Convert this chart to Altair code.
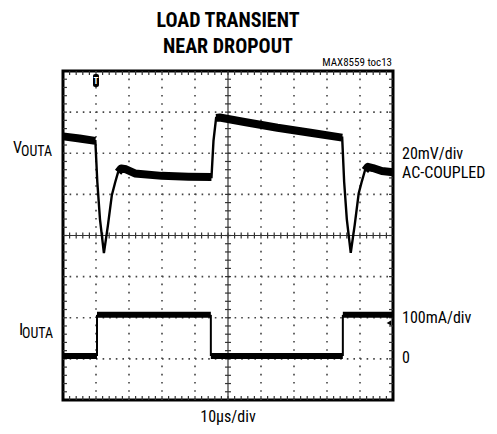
import altair as alt
import numpy as np
import pandas as pd

# ---------------- data (scope divisions: x 0..10, y 0..8) ----------------
# V_OUTA trace (20mV/div, AC-coupled)
v_x = [0.00, 0.50, 0.98, 1.04, 1.12, 1.24, 1.36, 1.48, 1.58, 1.67, 1.76, 1.91, 2.18,
       3.00, 3.80, 4.50, 4.56, 4.64, 4.75, 5.50, 6.50, 7.50, 8.46,
       8.52, 8.60, 8.72, 8.84, 8.96, 9.06, 9.15, 9.24, 9.39, 9.66, 10.00]
v_y = [6.41, 6.36, 6.30, 5.30, 4.40, 3.57, 4.24, 4.98, 5.29, 5.54, 5.63, 5.61, 5.51,
       5.45, 5.43, 5.42, 6.30, 6.86, 6.87, 6.76, 6.62, 6.50, 6.38,
       5.30, 4.40, 3.58, 4.26, 5.02, 5.33, 5.58, 5.67, 5.64, 5.57, 5.54]

# I_OUTA trace (100mA/div): step times and levels
i_edges = [0.00, 1.03, 4.48, 8.48, 10.00]
i_levels = [1.07, 2.07, 1.07, 2.07]

grid_x = [1, 2, 3, 4, 6, 7, 8, 9]
grid_y = [1, 2, 3, 5, 6, 7]

TITLE = ["LOAD TRANSIENT", "NEAR DROPOUT"]
TOC = "MAX8559 toc13"
X_LABEL = "10\u03bcs/div"
V_SCALE = ["20mV/div", "AC-COUPLED"]
I_SCALE = ["100mA/div", "0"]

FONT = "Liberation Sans Narrow, Roboto Condensed, DejaVu Sans Condensed, sans-serif"

W, H = 330, 329
xs = alt.Scale(domain=[0, 10], nice=False, zero=False)
ys = alt.Scale(domain=[0, 8], nice=False, zero=False)


def X(f):
    return alt.X(f, type="quantitative", scale=xs, axis=None)


def Y(f):
    return alt.Y(f, type="quantitative", scale=ys, axis=None)


# ---------------- graticule ----------------
vg = pd.DataFrame({"x": grid_x, "y": 0.0, "y2": 8.0})
hg = pd.DataFrame({"y": grid_y, "x": 0.0, "x2": 10.0})
vgrid = alt.Chart(vg).mark_rule(color="#444", strokeWidth=1.6, strokeDash=[1.6, 6.6]).encode(
    x=X("x"), y=Y("y"), y2="y2")
hgrid = alt.Chart(hg).mark_rule(color="#444", strokeWidth=1.6, strokeDash=[1.6, 5.0]).encode(
    y=Y("y"), x=X("x"), x2="x2")

center = pd.DataFrame({"x": [5.0, 0.0], "x2": [5.0, 10.0], "y": [0.0, 4.0], "y2": [8.0, 4.0]})
center_lines = alt.Chart(center).mark_rule(color="#333", strokeWidth=1.2).encode(
    x=X("x"), x2="x2", y=Y("y"), y2="y2")

tx = np.round(np.arange(0.2, 10.0, 0.2), 2)
ty = np.round(np.arange(0.2, 8.0, 0.2), 2)
ticks = pd.concat([
    pd.DataFrame({"x": tx, "x2": tx, "y": 4 - 0.07, "y2": 4 + 0.07}),
    pd.DataFrame({"x": 5 - 0.09, "x2": 5 + 0.09, "y": ty, "y2": ty}),
    pd.DataFrame({"x": tx, "x2": tx, "y": 0.0, "y2": 0.1}),
    pd.DataFrame({"x": tx, "x2": tx, "y": 7.9, "y2": 8.0}),
    pd.DataFrame({"x": 0.0, "x2": 0.12, "y": ty, "y2": ty}),
    pd.DataFrame({"x": 9.88, "x2": 10.0, "y": ty, "y2": ty}),
])
tick_marks = alt.Chart(ticks).mark_rule(color="#333", strokeWidth=1.2).encode(
    x=X("x"), x2="x2", y=Y("y"), y2="y2")

# ---------------- traces ----------------
vdf = pd.DataFrame({"x": v_x, "y": v_y, "i": range(len(v_x))})
v_thin = alt.Chart(vdf).mark_line(color="black", strokeWidth=2.4).encode(
    x=X("x"), y=Y("y"), order="i:Q")

# thick (noisy) band on the slowly-varying parts: contiguous runs of gentle segments
vx = np.array(v_x)
vy = np.array(v_y)
dxp = np.diff(vx) * W / 10
dyp = np.diff(vy) * H / 8
slow = np.abs(dyp) < 1.4 * np.abs(dxp)
rows = []
run = 0
prev = False
for k, s in enumerate(slow):
    if s:
        if not prev:
            run += 1
            rows.append({"x": vx[k], "y": vy[k], "run": run, "i": k})
        rows.append({"x": vx[k + 1], "y": vy[k + 1], "run": run, "i": k + 1})
    prev = s
runs = pd.DataFrame(rows)
v_thick = alt.Chart(runs).mark_line(color="black", strokeWidth=8, strokeCap="butt",
                                    strokeJoin="round").encode(
    x=X("x"), y=Y("y"), detail="run:N", order="i:Q")

ih = pd.DataFrame({"x": i_edges[:-1], "x2": i_edges[1:], "y": i_levels})
iv = pd.DataFrame({"x": i_edges[1:-1], "y": i_levels[:-1], "y2": i_levels[1:]})
i_flat = alt.Chart(ih).mark_rule(color="black", strokeWidth=6).encode(
    x=X("x"), x2="x2", y=Y("y"))
i_edge = alt.Chart(iv).mark_rule(color="black", strokeWidth=2).encode(
    x=X("x"), y=Y("y"), y2="y2")

# ---------------- markers & labels ----------------
one = pd.DataFrame({"k": [0]})
trig_box = alt.Chart(one).mark_rect(color="black", cornerRadius=2).encode(
    x=alt.value(30), x2=alt.value(36), y=alt.value(3), y2=alt.value(16))
trig_t = alt.Chart(one).mark_text(text="T", color="white", fontSize=9, fontWeight="bold",
                                  font=FONT, align="center", baseline="alphabetic").encode(
    x=alt.value(33), y=alt.value(13))
gnd = alt.Chart(one).mark_point(shape="triangle-left", filled=True, color="black", size=30,
                                opacity=1).encode(x=alt.value(326), y=alt.value(252))


def label(txt, x, y, size, align="left", weight="normal"):
    return alt.Chart(one).mark_text(text=txt, align=align, baseline="alphabetic",
                                    fontSize=size, fontWeight=weight, font=FONT,
                                    color="black").encode(x=alt.value(x), y=alt.value(y))


labels = [
    label(TITLE[0], 165, -44, 20, "center", "bold"),
    label(TITLE[1], 165, -18, 20, "center", "bold"),
    label(TOC, 329, -5, 11, "right"),
    label("V", -50, 82, 16),
    label("OUTA", -42, 85, 14),
    label("I", -44, 264, 17),
    label("OUTA", -41, 267, 14),
    label(V_SCALE[0], 339, 88, 16),
    label(V_SCALE[1], 339, 107, 16),
    label(I_SCALE[0], 339, 252, 16),
    label(I_SCALE[1], 339, 292, 16),
    label(X_LABEL, 165, 351, 16, "center"),
]

chart = alt.layer(
    hgrid, vgrid, center_lines, tick_marks,
    i_flat, i_edge, v_thin, v_thick,
    trig_box, trig_t, gnd, *labels,
).properties(
    width=W, height=H,
    autosize=alt.AutoSizeParams(type="none"),
    padding={"left": 55, "top": 63, "right": 96, "bottom": 26},
    background="white",
).configure_view(stroke="black", strokeWidth=3)

chart.save("out.html", embed_options={"renderer": "svg", "actions": False})
